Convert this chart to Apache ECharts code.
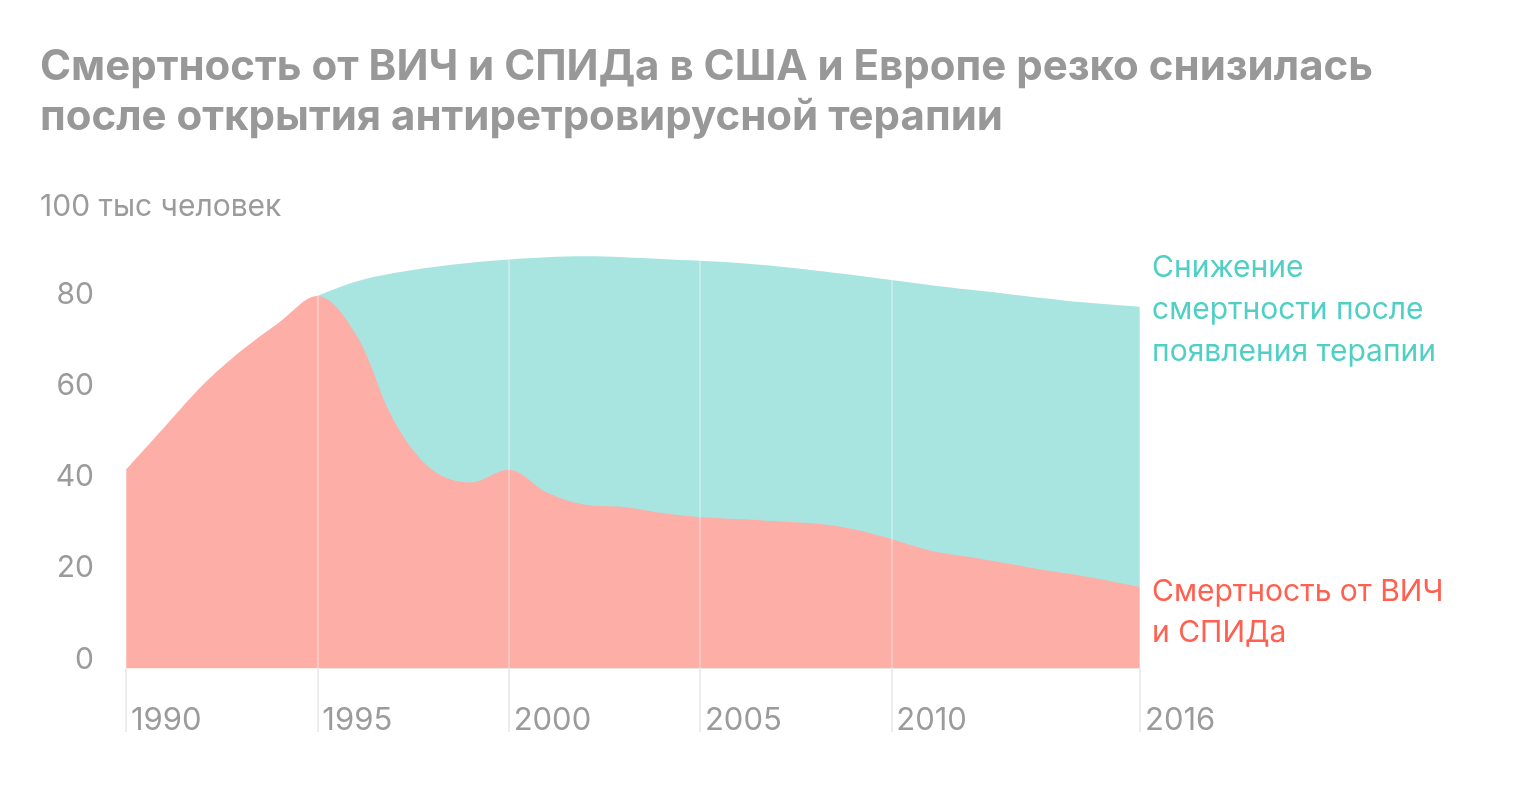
<!DOCTYPE html>
<html>
<head>
<meta charset="utf-8">
<script src="https://cdn.jsdelivr.net/npm/echarts@6/dist/echarts.min.js"></script>
<style>
  html, body { margin: 0; padding: 0; background: #fff; }
  #chart { width: 1520px; height: 800px; }
</style>
</head>
<body>
<div id="chart"></div>
<script>
// years; the last point sits at the right edge of the chart (labelled 2016)
var years = [1990, 1991, 1992, 1993, 1994, 1995, 1996, 1997, 1998, 1999,
  2000, 2001, 2002, 2003, 2004, 2005, 2006, 2007, 2008, 2009,
  2010, 2011, 2012, 2013, 2014, 2015, 2016.5]
// deaths from HIV/AIDS, 100k people
var deaths = [43.5, 52.8, 62.0, 69.5, 75.8, 81.6, 73.3, 54.3, 43.5, 40.7,
  43.5, 38.5, 35.8, 35.3, 34.0, 33.1, 32.7, 32.2, 31.7, 30.5,
  28.3, 25.8, 24.4, 23.0, 21.5, 20.2, 17.8]
// deaths averted after therapy appeared (sits on top of deaths)
var averted = [0, 0, 0, 0, 0, 0, 11.4, 32.3, 44.4, 48.2,
  46.1, 51.6, 54.5, 54.8, 55.7, 56.2, 56.1, 55.9, 55.5, 55.7,
  56.8, 58.2, 58.6, 59.1, 59.6, 60.0, 61.4]
var gridYears = [1990, 1995, 2000, 2005, 2010, 2016.5]
var yTicks = [0, 20, 40, 60, 80]
var yMin = -14

var FONT = 'Inter, "Noto Sans", sans-serif'

var chart = echarts.init(document.getElementById('chart'))

var deathData = []
var totalData = []
for (var i = 0; i < years.length; i++) {
  deathData.push([years[i], deaths[i]])
  // teal area only where averted deaths exist (plus the point where it starts)
  var on = averted[i] > 0 || (i + 1 < years.length && averted[i + 1] > 0)
  totalData.push([years[i], on ? deaths[i] + averted[i] : null])
}

// vertical year lines: grey below the areas, light over them
var lineData = []
gridYears.forEach(function (yr) {
  var k = years.indexOf(yr)
  var top = deaths[k] + averted[k]
  lineData.push([
    { coord: [yr, yMin], lineStyle: { color: '#e6e6e6' } },
    { coord: [yr, 0] }
  ])
  lineData.push([
    { coord: [yr, 0], lineStyle: { color: 'rgba(255,255,255,0.4)' } },
    { coord: [yr, top] }
  ])
})

chart.setOption({
  animation: false,
  title: [{
    text: 'Смертность от ВИЧ и СПИДа в США и Европе резко снизилась\nпосле открытия антиретровирусной терапии',
    left: 40,
    top: 42,
    padding: 0,
    textStyle: {
      fontFamily: FONT,
      fontSize: 42,
      fontWeight: 'bold',
      color: '#989898',
      lineHeight: 50
    }
  }, {
    text: '100 тыс человек',
    left: 40,
    top: 192,
    padding: 0,
    textStyle: {
      fontFamily: FONT,
      fontSize: 30,
      fontWeight: 'normal',
      color: '#9b9b9b'
    }
  }],
  grid: {
    left: 126,
    right: 380,
    top: 212,
    bottom: 68
  },
  xAxis: {
    type: 'value',
    min: 1990,
    max: 2016.5,
    axisLine: { show: false },
    axisTick: { show: false },
    splitLine: { show: false },
    axisLabel: {
      customValues: gridYears,
      inside: true,
      margin: -4,
      align: 'left',
      verticalAlign: 'bottom',
      padding: [0, 0, 0, 5],
      fontFamily: FONT,
      fontSize: 31,
      color: '#9b9b9b',
      formatter: function (v) { return String(Math.floor(v)) }
    }
  },
  yAxis: {
    type: 'value',
    min: yMin,
    max: 100,
    axisLine: { show: false },
    axisTick: { show: false },
    splitLine: { show: false },
    axisLabel: {
      customValues: yTicks,
      margin: 32,
      verticalAlign: 'bottom',
      lineHeight: 17,
      fontFamily: FONT,
      fontSize: 30,
      color: '#9b9b9b'
    }
  },
  series: [{
    name: 'averted',
    type: 'line',
    smooth: 0.35,
    symbol: 'none',
    connectNulls: false,
    lineStyle: { width: 0 },
    areaStyle: { color: '#a8e5e1', opacity: 1 },
    data: totalData,
    endLabel: {
      show: true,
      formatter: 'Снижение\nсмертности после\nпоявления терапии',
      distance: 12,
      offset: [0, 3],
      fontFamily: FONT,
      fontSize: 30,
      lineHeight: 42,
      color: '#50d0c5'
    }
  }, {
    name: 'deaths',
    type: 'line',
    smooth: 0.35,
    symbol: 'none',
    lineStyle: { width: 0 },
    areaStyle: { color: '#fdaea6', opacity: 1 },
    data: deathData,
    endLabel: {
      show: true,
      formatter: 'Смертность от ВИЧ\nи СПИДа',
      distance: 12,
      offset: [0, 26],
      fontFamily: FONT,
      fontSize: 30,
      lineHeight: 41,
      color: '#ff604f'
    }
  }, {
    name: 'lines',
    type: 'line',
    data: [],
    z: 5,
    markLine: {
      silent: true,
      symbol: ['none', 'none'],
      label: { show: false },
      lineStyle: { type: 'solid', width: 1.5 },
      data: lineData
    }
  }]
})
</script>
</body>
</html>
